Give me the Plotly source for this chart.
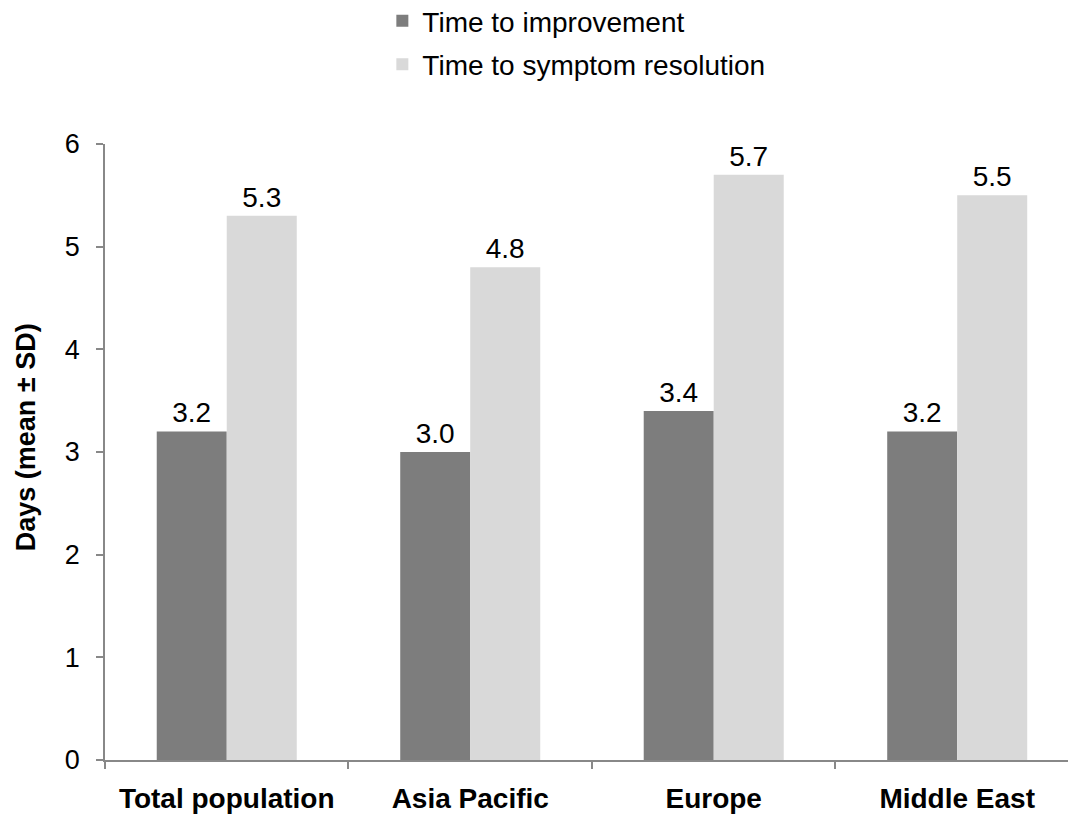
import plotly.graph_objects as go

categories = ["Total population", "Asia Pacific", "Europe", "Middle East"]
improvement = [3.2, 3.0, 3.4, 3.2]
resolution = [5.3, 4.8, 5.7, 5.5]
series_names = ["Time to improvement", "Time to symptom resolution"]
y_ticks = [0, 1, 2, 3, 4, 5, 6]
y_title = "Days (mean ± SD)"

FONT = "Liberation Sans, Arial, sans-serif"
AX = "#888888"

fig = go.Figure()
fig.add_trace(go.Bar(
    x=categories, y=improvement, name=series_names[0],
    marker=dict(color="#7d7d7d", line=dict(width=0)),
    text=[f"{v:.1f}" for v in improvement], textposition="outside",
    textfont=dict(size=28, color="black", family=FONT),
    cliponaxis=False, legendgroup="a",
))
fig.add_trace(go.Bar(
    x=categories, y=resolution, name=series_names[1],
    marker=dict(color="#d9d9d9", line=dict(width=0)),
    text=[f"{v:.1f}" for v in resolution], textposition="outside",
    textfont=dict(size=28, color="black", family=FONT),
    cliponaxis=False, legendgroup="b",
))

fig.add_annotation(
    text=y_title, textangle=-90, xref="paper", yref="paper",
    x=-0.082, y=0.524, xanchor="center", yanchor="middle", showarrow=False,
    font=dict(size=27, color="black", family=FONT, weight="bold"),
)

fig.update_layout(
    width=1068, height=814,
    margin=dict(l=105, r=0, t=144, b=54, autoexpand=False),
    paper_bgcolor="white", plot_bgcolor="white",
    font=dict(family=FONT, color="black"),
    barmode="group", bargap=0.425, bargroupgap=0,
    showlegend=True,
    legend=dict(
        x=0.288, y=1.240, xanchor="left", yanchor="top",
        orientation="v", font=dict(size=28, color="black", family=FONT),
        tracegroupgap=4, bgcolor="rgba(0,0,0,0)",
    ),
    xaxis=dict(
        type="category", range=[-0.5, 3.455],
        showline=True, linecolor=AX, linewidth=1.5,
        ticks="outside", ticklen=7, tickcolor=AX, tickwidth=1.5,
        tickson="boundaries", showgrid=False, zeroline=False,
        tickfont=dict(size=28, color="black", family=FONT, weight="bold"),
        ticklabelstandoff=13,
    ),
    yaxis=dict(
        range=[0, 6], tickvals=y_ticks,
        showline=True, linecolor=AX, linewidth=1.5,
        ticks="outside", ticklen=7, tickcolor=AX, tickwidth=1.5,
        showgrid=False, zeroline=False,
        tickfont=dict(size=27, color="black", family=FONT),
        ticklabelstandoff=11,
    ),
)

fig.write_html("out.html")
